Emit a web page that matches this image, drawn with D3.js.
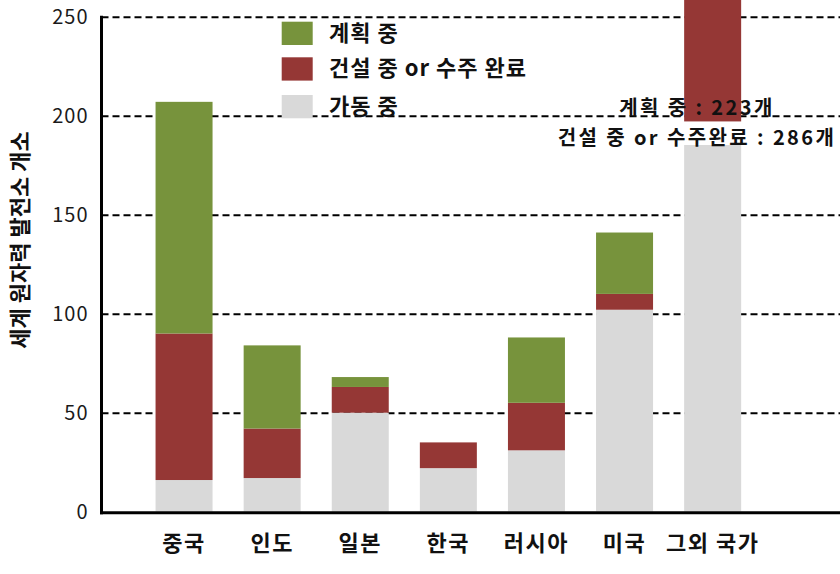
<!DOCTYPE html>
<html>
<head>
<meta charset="utf-8">
<script src="https://cdn.jsdelivr.net/npm/d3@7"></script>
<style>
  html, body { margin: 0; padding: 0; background: #fff; }
  svg { display: block; font-family: "Noto Sans CJK KR", "Noto Sans", sans-serif; }
</style>
</head>
<body>
<svg id="chart" width="840" height="574"></svg>
<script>
// ---- data ----
const categories = ["중국", "인도", "일본", "한국", "러시아", "미국", "그외 국가"];
const operating = [16, 17, 50, 22, 31, 102, 197];       // 가동 중
const construction = [74, 25, 13, 13, 24, 8, 286];       // 건설 중 or 수주 완료
const planned = [117, 42, 5, 0, 33, 31, 223];            // 계획 중
const seriesNames = ["가동 중", "건설 중 or 수주 완료", "계획 중"];
const seriesColors = ["#d9d9d9", "#953735", "#77933c"];
const yTicks = [0, 50, 100, 150, 200, 250];
const yTitle = "세계 원자력 발전소 개소";
const noteLines = ["계획 중 : 223개", "건설 중 or 수주완료 : 286개"];

// ---- layout ----
const W = 840, H = 574;
const plotLeft = 101.5, plotRight = 840, plotBottom = 511.7, plotTop = 16.7;

const svg = d3.select("#chart");

const x = d3.scaleBand()
  .domain(categories)
  .range([140, 756.7])
  .paddingInner(0.353)
  .paddingOuter(0.1765);

const y = d3.scaleLinear().domain([0, 250]).range([plotBottom, plotTop]);

// gridlines
const grid = svg.append("g")
  .attr("transform", `translate(${plotLeft},0)`)
  .call(d3.axisLeft(y).tickValues(yTicks.filter(d => d > 0)).tickSize(-(plotRight - plotLeft)).tickFormat(""));
grid.select(".domain").remove();
grid.selectAll(".tick line")
  .attr("stroke", "#000")
  .attr("stroke-width", 2)
  .attr("stroke-dasharray", "7,4");

// stacked data
const table = categories.map((c, i) => ({
  cat: c,
  [seriesNames[0]]: operating[i],
  [seriesNames[1]]: construction[i],
  [seriesNames[2]]: planned[i]
}));
const stacked = d3.stack().keys(seriesNames)(table);

svg.append("defs").append("clipPath").attr("id", "plotclip")
  .append("rect").attr("x", plotLeft).attr("y", 0).attr("width", plotRight - plotLeft).attr("height", plotBottom);

const bars = svg.append("g").attr("clip-path", "url(#plotclip)");
stacked.forEach((layer, li) => {
  bars.append("g").attr("fill", seriesColors[li])
    .selectAll("rect")
    .data(layer)
    .join("rect")
    .attr("x", d => x(d.data.cat))
    .attr("width", x.bandwidth())
    .attr("y", d => y(d[1]))
    .attr("height", d => Math.max(0, y(d[0]) - y(d[1])));
});

// y tick labels
const yAxis = svg.append("g")
  .attr("transform", `translate(${plotLeft - 13},0)`)
  .call(d3.axisLeft(y).tickValues(yTicks).tickSize(0).tickPadding(0));
yAxis.select(".domain").remove();
yAxis.selectAll("text")
  .attr("font-size", 20)
  .attr("letter-spacing", 1)
  .attr("fill", "#1a1a1a")
  .attr("font-family", "'Noto Sans CJK KR', sans-serif");

// axis lines
svg.append("line")
  .attr("x1", plotLeft).attr("x2", plotLeft)
  .attr("y1", y(250) - 1).attr("y2", plotBottom + 2.5)
  .attr("stroke", "#000").attr("stroke-width", 3);
svg.append("line")
  .attr("x1", plotLeft - 1.5).attr("x2", plotRight)
  .attr("y1", plotBottom + 1).attr("y2", plotBottom + 1)
  .attr("stroke", "#000").attr("stroke-width", 3);

// x labels
const xAxis = svg.append("g")
  .attr("transform", `translate(0,${plotBottom})`)
  .call(d3.axisBottom(x).tickSize(0).tickPadding(0));
xAxis.select(".domain").remove();
xAxis.selectAll("text")
  .attr("dy", null)
  .attr("y", 39)
  .attr("font-size", 22)
  .attr("letter-spacing", 1.5)
  .attr("font-weight", "bold")
  .attr("fill", "#111")
  .attr("font-family", "'Noto Sans CJK KR', sans-serif");

// y title
svg.append("text")
  .attr("transform", `translate(28,240) rotate(-90)`)
  .attr("text-anchor", "middle")
  .attr("font-size", 22)
  .attr("font-weight", "bold")
  .attr("fill", "#111")
  .text(yTitle);

// legend (top to bottom: 계획 중, 건설 중..., 가동 중)
const legendOrder = [2, 1, 0];
const legendY = [21.7, 57.3, 95];
const legend = svg.append("g");
legendOrder.forEach((si, k) => {
  legend.append("rect")
    .attr("x", 281.7).attr("y", legendY[k])
    .attr("width", 31).attr("height", 23.3)
    .attr("fill", seriesColors[si]);
  legend.append("text")
    .attr("x", 329).attr("y", legendY[k] + 9)
    .attr("dominant-baseline", "central")
    .attr("font-size", 22)
    .attr("letter-spacing", 1)
    .attr("font-weight", "bold")
    .attr("fill", "#111")
    .text(seriesNames[si]);
});

// annotation
const noteX = 697;
svg.append("text")
  .attr("x", noteX).attr("y", 106)
  .attr("text-anchor", "middle").attr("dominant-baseline", "central")
  .attr("font-size", 20).attr("letter-spacing", 2.4).attr("font-weight", "bold").attr("fill", "#111")
  .text(noteLines[0]);
const n2g = svg.append("g");
const n2 = n2g.append("text")
  .attr("x", noteX).attr("y", 136)
  .attr("text-anchor", "middle").attr("dominant-baseline", "central")
  .attr("font-size", 20).attr("letter-spacing", 2.4).attr("font-weight", "bold").attr("fill", "#111")
  .text(noteLines[1]);
const bb = n2.node().getBBox();
n2g.insert("rect", "text")
  .attr("x", bb.x).attr("y", y(operating[6]))
  .attr("width", bb.width).attr("height", 145 - y(operating[6]))
  .attr("fill", "#fff");
</script>
</body>
</html>
